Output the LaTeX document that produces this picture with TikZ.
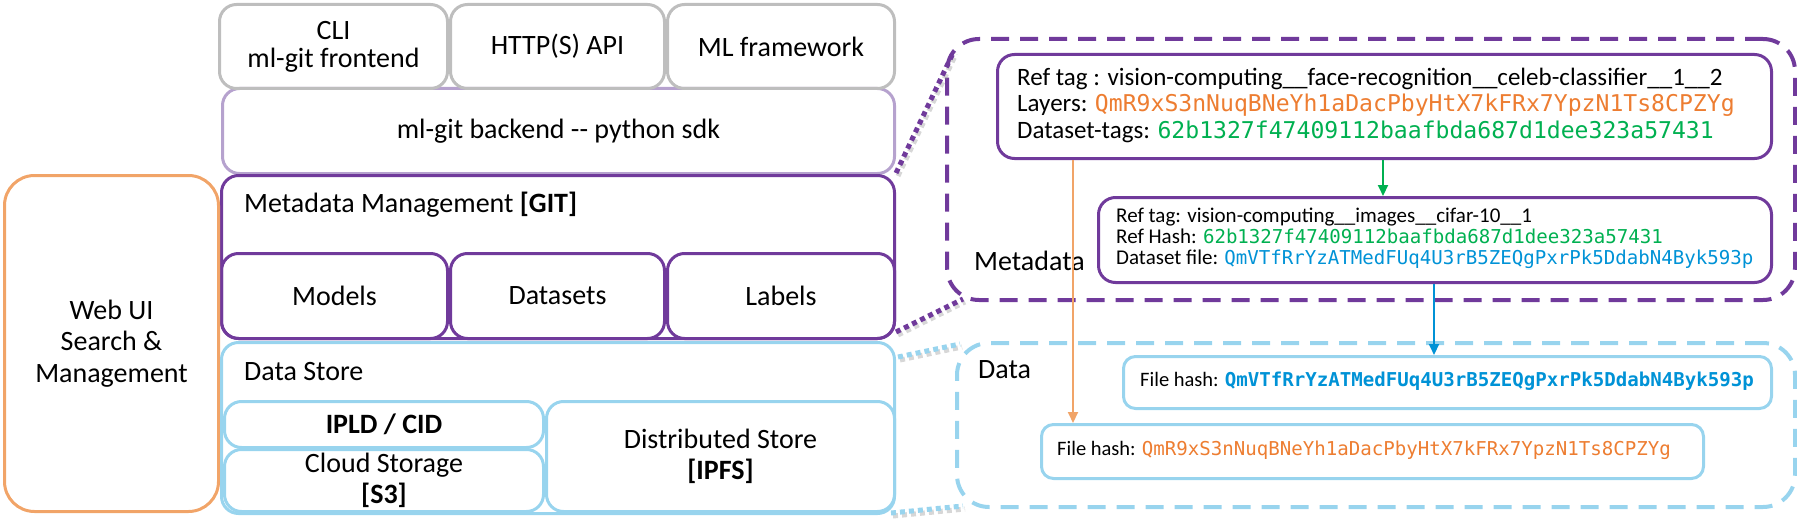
\documentclass[tikz,border=0pt]{standalone}
\usepackage{fontspec}
\setmainfont{Carlito}
\newfontfamily\hashfont{DejaVu Sans Mono}
\usetikzlibrary{arrows.meta,calc}
\definecolor{grayb}{RGB}{190,190,190}
\definecolor{lpurple}{RGB}{182,162,206}
\definecolor{dpurple}{RGB}{112,58,155}
\definecolor{worange}{RGB}{241,164,104}
\definecolor{lblue}{RGB}{152,212,238}
\definecolor{torange}{RGB}{237,125,49}
\definecolor{tgreen}{RGB}{0,176,80}
\definecolor{tblue}{RGB}{0,146,214}
\begin{document}
\begin{tikzpicture}[x=1pt,y=-1pt,
  bx/.style={draw, line width=3pt, rounded corners=17pt, inner sep=0pt, anchor=north west, align=center},
  gbox/.style={bx, draw=grayb},
  lpbox/.style={bx, draw=lpurple},
  dpbox/.style={bx, draw=dpurple},
  lbbox/.style={bx, draw=lblue},
  obox/.style={bx, draw=worange, rounded corners=30pt},
  dashbox/.style={draw, line width=4pt, rounded corners=32pt, dash pattern=on 18pt off 11pt, inner sep=0pt, anchor=north west},
  big/.style={font=\fontsize{28}{31.5}\selectfont},
  tl/.style={inner sep=0pt, anchor=west, align=left},
  leader/.style={line width=5pt, dash pattern=on 5pt off 4pt},
  shadow/.style={leader, draw=black!45, opacity=0.35},
  arr/.style={line width=2pt, -{Triangle[length=11pt,width=10pt]}},
]
\useasboundingbox (0,0) rectangle (1797,527);

% left stack
\node[lpbox, big, minimum width=672pt, minimum height=85pt] (backend) at (221,87) {ml-git backend -\kern0pt- python sdk};
\node[gbox, big, minimum width=228pt, minimum height=84pt, font=\fontsize{28}{28}\selectfont] (cli) at (218,3) {CLI\\ml-git frontend};
\node[gbox, big, minimum width=214pt, minimum height=84pt] (http) at (449,3) {HTTP(S) API};
\node[gbox, big, minimum width=227pt, minimum height=84pt] (mlfw) at (666,3) {ML framework};

\node[dpbox, minimum width=673pt, minimum height=163pt] (meta) at (220,174) {};
\node[tl, big] (metat) at (244,205) {Metadata Management \textbf{[GIT]}};
\node[dpbox, big, minimum width=226pt, minimum height=85pt] (models) at (220,252) {Models};
\node[dpbox, big, minimum width=214pt, minimum height=85pt] (datasets) at (449,252) {Datasets};
\node[dpbox, big, minimum width=227pt, minimum height=85pt] (labels) at (666,252) {Labels};

\node[obox, big, minimum width=214pt, minimum height=336pt] (webui) at (3,174) {Web UI\\Search \&\\Management};

\node[lbbox, minimum width=673pt, minimum height=171pt] (ds) at (220,341) {};
\node[tl, big] (dst) at (244,372) {Data Store};
\node[lbbox, big, minimum width=319pt, minimum height=46pt] (ipld) at (223,400) {\textbf{IPLD / CID}};
\node[lbbox, big, minimum width=319pt, minimum height=62pt] (cloud) at (223,448) {Cloud Storage\\\textbf{[S3]}};
\node[lbbox, big, minimum width=348pt, minimum height=110pt] (dist) at (545,400) {Distributed Store\\\textbf{[IPFS]}};

% right: metadata
\node[dashbox, draw=dpurple, minimum width=848pt, minimum height=261pt] (pdash) at (945,37) {};
\node[dpbox, minimum width=774pt, minimum height=104pt] (ref1) at (996,53) {};
\node[tl, font=\fontsize{25}{26.5}\selectfont] (ref1t) at (1017,105) {Ref tag : vision-computing\_\_face-recognition\_\_celeb-classifier\_\_1\_\_2\\
Layers: {\hashfont\fontsize{23.1}{26.5}\selectfont\color{torange}QmR9xS3nNuqBNeYh1aDacPbyHtX7kFRx7YpzN1Ts8CPZYg}\\
Dataset-tags: {\hashfont\fontsize{23.1}{26.5}\selectfont\color{tgreen}62b1327f47409112baafbda687d1dee323a57431}};
\node[dpbox, minimum width=673pt, minimum height=85pt] (ref2) at (1097,196) {};
\node[tl, font=\fontsize{21}{21}\selectfont] (ref2t) at (1116,238) {Ref tag: vision-computing\_\_images\_\_cifar-10\_\_1\\
Ref Hash: {\hashfont\fontsize{19.1}{21}\selectfont\color{tgreen}62b1327f47409112baafbda687d1dee323a57431}\\
Dataset file: {\hashfont\fontsize{19.1}{21}\selectfont\color{tblue}QmVTfRrYzATMedFUq4U3rB5ZEQgPxrPk5DdabN4Byk593p}};
\node[tl, big] (metal) at (974,261) {Metadata};

% right: data
\node[dashbox, draw=lblue, minimum width=838pt, minimum height=164pt] (ddash) at (955,341) {};
\node[tl, big] (datal) at (978,370) {Data};
\node[lbbox, rounded corners=12pt, minimum width=648pt, minimum height=52pt] (fh1) at (1122,355) {};
\node[tl, font=\fontsize{20.5}{21}\selectfont] (fh1t) at (1140,381) {File hash: {\hashfont\bfseries\fontsize{19.1}{21}\selectfont\color{tblue}QmVTfRrYzATMedFUq4U3rB5ZEQgPxrPk5DdabN4Byk593p}};
\node[lbbox, rounded corners=12pt, minimum width=662pt, minimum height=54pt] (fh2) at (1040,423) {};
\node[tl, font=\fontsize{20.5}{21}\selectfont] (fh2t) at (1057,450) {File hash: {\hashfont\fontsize{19.1}{21}\selectfont\color{torange}QmR9xS3nNuqBNeYh1aDacPbyHtX7kFRx7YpzN1Ts8CPZYg}};

% arrows
\coordinate (ox) at (1073,0);
\coordinate (gx) at (1383,0);
\coordinate (bx) at (1434,0);
\draw[arr, draw=worange, fill=worange] (ox |- ref1.south) -- (ox |- fh2.north);
\draw[arr, draw=tgreen, fill=tgreen] (gx |- ref1.south) -- (gx |- ref2.north);
\draw[arr, draw=tblue, fill=tblue] (bx |- ref2.south) -- (bx |- fh1.north);

% leaders
\coordinate (l1a) at ($(meta.north east)+(0,-1)$);
\coordinate (l1b) at ($(pdash.north west)+(9,14)$);
\coordinate (l2a) at ($(meta.south east)+(0,-8)$);
\coordinate (l2b) at ($(pdash.south west)+(18,-3)$);
\coordinate (l3a) at ($(ds.north east)+(2,16)$);
\coordinate (l3b) at ($(ddash.north west)+(5,3)$);
\coordinate (l4a) at ($(ds.south east)+(-5,-2)$);
\coordinate (l4b) at ($(ddash.south west)+(8,-3)$);
\foreach \a/\b in {l1a/l1b,l2a/l2b,l3a/l3b,l4a/l4b}
  \draw[shadow] ($(\a)+(2,3)$) -- ($(\b)+(2,3)$);
\draw[leader, draw=dpurple] (l1a) -- (l1b);
\draw[leader, draw=dpurple] (l2a) -- (l2b);
\draw[leader, draw=lblue] (l3a) -- (l3b);
\draw[leader, draw=lblue] (l4a) -- (l4b);
\end{tikzpicture}
\end{document}
